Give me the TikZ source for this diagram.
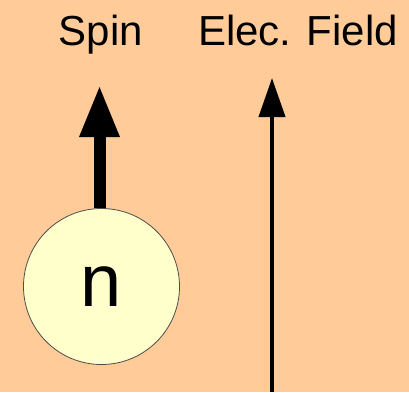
\documentclass[tikz,border=0pt]{standalone}
\usepackage{fontspec}
\setmainfont{Liberation Sans}
\usetikzlibrary{arrows.meta,positioning}
\definecolor{Peach}{HTML}{FFCC99}
\definecolor{PaleYellow}{HTML}{FFFFCC}

\begin{document}
\begin{tikzpicture}[x=1pt,y=-1pt,
    lbl/.style={anchor=base,font=\fontsize{42}{48}\selectfont},
    particle/.style={circle,draw=black!70,line width=.8pt,fill=PaleYellow,minimum size=156pt,inner sep=0pt,font=\fontsize{74}{80}\selectfont},
    spinarr/.style={-{Triangle[width=37pt,length=52pt]},line width=12pt},
    fieldarr/.style={-{Triangle[width=26pt,length=39pt]},line width=4pt}]
    \fill[Peach] (0,0) rectangle (409,392);
    \useasboundingbox (0,0) rectangle (409,392);
    \node[lbl] (spin) at (101,45) {Spin};
    \node[lbl] (field) at (298,45) {Elec. Field};
    \node[particle] (neutron) at (101.5,286.5) {n};
    \coordinate (spintip) at (99.5,85);
    \coordinate (fieldbot) at (272,392);
    \coordinate (fieldtip) at (272,78);
    \draw[spinarr] (neutron.north -| spintip) -- (spintip);
    \draw[fieldarr] (fieldbot) -- (fieldtip);
  \end{tikzpicture}
\end{document}
